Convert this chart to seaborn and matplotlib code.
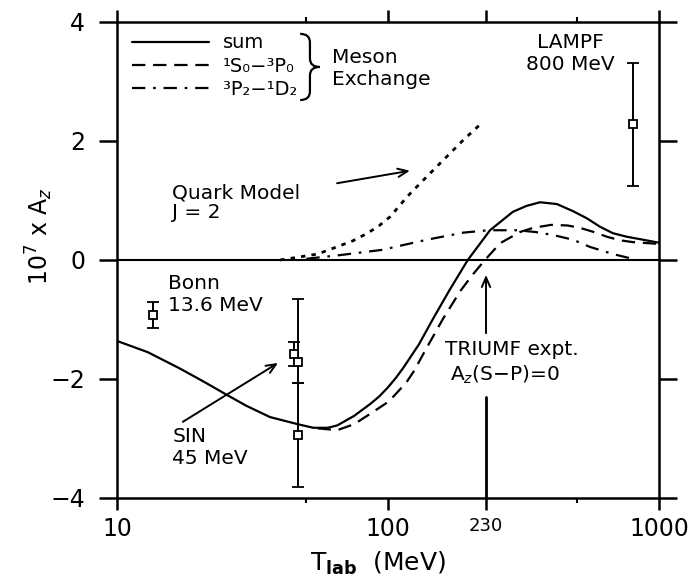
import matplotlib
matplotlib.use("Agg")
import matplotlib.pyplot as plt
import seaborn as sns
from matplotlib.lines import Line2D
from matplotlib.path import Path
from matplotlib.patches import PathPatch
from matplotlib.ticker import FixedLocator, NullFormatter


# ==============================================================
# DATA
# ==============================================================

# meson exchange, sum
sum_T = [10, 13, 17, 21, 25.5, 30, 36.7, 46.5, 53, 60, 65, 75, 86, 93, 100, 107,
         114, 130, 147, 169, 197, 238, 289, 325, 364, 420, 482, 542, 605, 676,
         762, 851, 1000]
sum_A = [-1.36, -1.55, -1.82, -2.05, -2.27, -2.45, -2.64, -2.76, -2.82, -2.82, -2.78,
         -2.62, -2.42, -2.29, -2.14, -1.98, -1.81, -1.42, -0.98, -0.50, 0.0, 0.50,
         0.81, 0.91, 0.97, 0.94, 0.82, 0.70, 0.56, 0.45, 0.39, 0.35, 0.29]

# 1S0 - 3P0
sp_T = [55, 65, 75, 85, 99, 105, 112, 118, 125, 132, 140, 160, 185, 205, 228,
        259, 307, 343, 400, 460, 511, 575, 643, 720, 802, 1000]
sp_A = [-2.83, -2.86, -2.76, -2.60, -2.40, -2.29, -2.15, -2.03, -1.86, -1.66, -1.45,
        -0.98, -0.52, -0.25, 0.0, 0.28, 0.47, 0.54, 0.59, 0.58, 0.54, 0.47, 0.39,
        0.33, 0.30, 0.27]

# 3P2 - 1D2
pd_T = [50, 66, 95, 139, 190, 235, 300, 350, 406, 482, 556, 676, 781]
pd_A = [0.02, 0.08, 0.17, 0.34, 0.46, 0.50, 0.50, 0.47, 0.42, 0.34, 0.22, 0.10, 0.03]

# quark model J = 2
qm_T = [40, 47, 55, 63, 74, 84, 93, 102, 118, 139, 165, 190, 218]
qm_A = [0.0, 0.05, 0.10, 0.20, 0.32, 0.45, 0.58, 0.73, 1.07, 1.40, 1.74, 2.02, 2.27]

# experiments
bonn_T = [13.6]
bonn_A = [-0.93]
bonn_err = [0.22]

sin_T = [45, 46.7, 46.7]
sin_A = [-1.58, -1.71, -2.94]
sin_err_lo = [0.21, 0.36, 0.88]
sin_err_hi = [0.21, 1.05, 0.87]

lampf_T = [800]
lampf_A = [2.28]
lampf_err = [1.03]

triumf_T = 230

legend_labels = ["sum", "¹S₀−³P₀", "³P₂−¹D₂"]


# ==============================================================
# PLOT
# ==============================================================

sns.set_style("ticks")
plt.rcParams["font.family"] = ["DejaVu Sans"]
plt.rcParams["mathtext.fontset"] = "dejavusans"
plt.rcParams["text.color"] = "black"
plt.rcParams["axes.labelcolor"] = "black"
plt.rcParams["xtick.color"] = "black"
plt.rcParams["ytick.color"] = "black"
plt.rcParams["axes.edgecolor"] = "black"

fig = plt.figure(figsize=(6.95, 5.8), dpi=100)
ax = fig.add_axes([0.1683, 0.1414, 0.7799, 0.8207])

lw = 1.6
dash = (0, (6, 3.5))
dashdot = (0, (6, 3.5, 1.2, 3.5))
dots = (0, (1.6, 2.2))
fs = 14.5

sns.lineplot(x=sum_T, y=sum_A, ax=ax, color="k", lw=lw)
sns.lineplot(x=sp_T, y=sp_A, ax=ax, color="k", lw=lw, linestyle=dash)
sns.lineplot(x=pd_T, y=pd_A, ax=ax, color="k", lw=lw, linestyle=dashdot)
sns.lineplot(x=qm_T, y=qm_A, ax=ax, color="k", lw=lw + 0.4, linestyle=dots)

ax.axhline(0, color="k", lw=1.5)

eb = dict(fmt="s", ms=6, mfc="white", mec="k", mew=1.3, ecolor="k",
          elinewidth=1.4, capsize=4, capthick=1.4, zorder=5)
ax.errorbar(bonn_T, bonn_A, yerr=bonn_err, **eb)
ax.errorbar(sin_T, sin_A, yerr=[sin_err_lo, sin_err_hi], **eb)
ax.errorbar(lampf_T, lampf_A, yerr=lampf_err, **eb)

# TRIUMF line from label down to the axis
ax.plot([triumf_T, triumf_T], [-2.3, -4.0], color="k", lw=2.0)

# axes
ax.set_xscale("log")
ax.set_xlim(10, 1000)
ax.set_ylim(-4, 4)
ax.xaxis.set_major_locator(FixedLocator([10, 100, 230, 1000]))
ax.set_xticklabels(["10", "100", "230", "1000"])
ax.xaxis.set_minor_locator(FixedLocator([50, 500]))
ax.xaxis.set_minor_formatter(NullFormatter())
ax.set_yticks([-4, -2, 0, 2, 4])
ax.set_yticklabels(["−4", "−2", "0", "2", "4"])

for s in ax.spines.values():
    s.set_linewidth(1.8)
    s.set_visible(True)

ax.tick_params(axis="x", which="major", direction="out", length=8.5, width=1.8,
               top=True, labelsize=17, pad=5)
ax.tick_params(axis="x", which="minor", direction="out", length=3.5, width=1.5, top=True)
ax.tick_params(axis="y", which="major", direction="out", length=13, width=1.8,
               right=True, labelsize=17, pad=10)
ax.get_xticklabels()[2].set_fontsize(13)

ax.set_xlabel(r"T$_{\mathbf{lab}}$  (MeV)", fontsize=18)
ax.xaxis.set_label_coords(0.482, -0.108)
ax.set_ylabel(r"10$^{7}$ x A$_{z}$", fontsize=17)
ax.yaxis.set_label_coords(-0.115, 0.55)

# legend
handles = [Line2D([], [], color="k", lw=lw),
           Line2D([], [], color="k", lw=lw, linestyle=dash),
           Line2D([], [], color="k", lw=lw, linestyle=dashdot)]
ax.legend(handles, legend_labels, loc="upper left", bbox_to_anchor=(0.027, 0.976),
          frameon=False, handlelength=4.0, handletextpad=0.7, labelspacing=0.22,
          borderpad=0, borderaxespad=0, fontsize=14)

# curly brace grouping the legend entries
bx, bw, btop, bbot = 0.338, 0.036, 0.975, 0.836
bxm, bmid, r = bx + bw / 2, (btop + bbot) / 2, 0.018
brace = Path(
    [(bx, btop), (bxm, btop), (bxm, btop - r), (bxm, bmid + r),
     (bxm, bmid), (bx + bw, bmid), (bxm, bmid), (bxm, bmid - r),
     (bxm, bbot + r), (bxm, bbot), (bx, bbot)],
    [Path.MOVETO, Path.CURVE3, Path.CURVE3, Path.LINETO,
     Path.CURVE3, Path.CURVE3, Path.CURVE3, Path.CURVE3,
     Path.LINETO, Path.CURVE3, Path.CURVE3])
ax.add_patch(PathPatch(brace, fill=False, lw=1.6, color="k", transform=ax.transAxes))
ax.text(62, 3.41, "Meson", fontsize=fs, va="center")
ax.text(62, 3.03, "Exchange", fontsize=fs, va="center")

# annotations
arrow = dict(arrowstyle="->,head_length=0.7,head_width=0.3", lw=1.4, color="k",
             shrinkA=0, shrinkB=0)
ax.text(16, 1.13, "Quark Model", fontsize=fs, va="center")
ax.text(16, 0.80, "J = 2", fontsize=fs, va="center")
ax.annotate("", xy=(120.5, 1.50), xytext=(64.9, 1.29), arrowprops=arrow)

ax.text(15.4, -0.39, "Bonn", fontsize=fs, va="center")
ax.text(15.4, -0.77, "13.6 MeV", fontsize=fs, va="center")

ax.text(16, -2.96, "SIN", fontsize=fs, va="center")
ax.text(16, -3.34, "45 MeV", fontsize=fs, va="center")
ax.annotate("", xy=(39.3, -1.73), xytext=(17.5, -2.72), arrowprops=arrow)

ax.text(162, -1.51, "TRIUMF expt.", fontsize=fs, va="center")
ax.text(170, -1.93, r"A$_z$(S−P)=0", fontsize=fs, va="center")
ax.annotate("", xy=(triumf_T, -0.25), xytext=(triumf_T, -1.23), arrowprops=arrow)

ax.text(470, 3.65, "LAMPF", fontsize=fs, ha="center", va="center")
ax.text(470, 3.28, "800 MeV", fontsize=fs, ha="center", va="center")

plt.savefig("out.png", dpi=100)
